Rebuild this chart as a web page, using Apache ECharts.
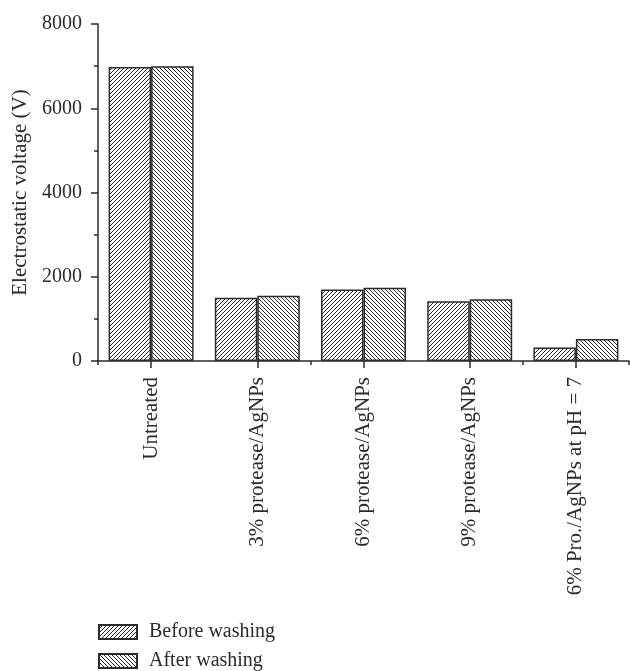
<!DOCTYPE html>
<html>
<head>
<meta charset="utf-8">
<style>
  html, body { margin: 0; padding: 0; background: #fff; }
  #chart { width: 630px; height: 671px; }
</style>
<script src="https://cdn.jsdelivr.net/npm/echarts@6/dist/echarts.min.js"></script>
</head>
<body>
<div id="chart"></div>
<script>
// Electrostatic voltage of fabrics before and after washing
const categories = [
  'Untreated',
  '3% protease/AgNPs',
  '6% protease/AgNPs',
  '9% protease/AgNPs',
  '6% Pro./AgNPs at pH = 7'
];
const seriesNames = ['Before washing', 'After washing'];
const beforeWashing = [6980, 1500, 1700, 1420, 320];
const afterWashing = [7000, 1550, 1740, 1465, 520];
const yTicks = [0, 2000, 4000, 6000, 8000];

const FONT = "'Liberation Serif', 'Times New Roman', serif";
const INK = '#2b2b2b';

// Diagonal hatch tile; dir = 1 for "/" lines, -1 for "\" lines
function hatch(dir) {
  const s = 4;
  const c = document.createElement('canvas');
  c.width = s; c.height = s;
  const g = c.getContext('2d');
  g.fillStyle = '#fff';
  g.fillRect(0, 0, s, s);
  g.strokeStyle = '#2a2a2a';
  g.lineWidth = 1;
  g.beginPath();
  if (dir > 0) {
    g.moveTo(-1, s + 1); g.lineTo(s + 1, -1);
    g.moveTo(-1, 1); g.lineTo(1, -1);
    g.moveTo(s - 1, s + 1); g.lineTo(s + 1, s - 1);
  } else {
    g.moveTo(-1, -1); g.lineTo(s + 1, s + 1);
    g.moveTo(s - 1, -1); g.lineTo(s + 1, 1);
    g.moveTo(-1, s - 1); g.lineTo(1, s + 1);
  }
  g.stroke();
  return { image: c, repeat: 'repeat' };
}

const chart = echarts.init(document.getElementById('chart'));

const barStyle = (dir) => ({
  color: hatch(dir),
  borderColor: INK,
  borderWidth: 1.5
});

// One legend row per series, stacked under the category labels
const legendRow = (name, top) => ({
  orient: 'horizontal',
  left: 98,
  top: top,
  padding: 0,
  itemWidth: 38,
  itemHeight: 14,
  icon: 'rect',
  data: [name],
  textStyle: { fontFamily: FONT, fontSize: 20, lineHeight: 20, color: INK, padding: [0, 0, 0, 7] }
});

chart.setOption({
  animation: false,
  backgroundColor: '#fff',
  textStyle: { fontFamily: FONT, color: INK },
  grid: { left: 98, right: 1, top: 24, bottom: 310, containLabel: false },
  legend: [
    legendRow(seriesNames[0], 622),
    legendRow(seriesNames[1], 651)
  ],
  xAxis: [
    {
      type: 'category',
      data: categories,
      position: 'bottom',
      boundaryGap: true,
      axisLine: { show: true, lineStyle: { color: INK, width: 1.5 } },
      axisTick: { show: true, alignWithLabel: true, length: 7, lineStyle: { color: INK, width: 1.5 } },
      axisLabel: {
        rotate: 90,
        margin: 16,
        fontFamily: FONT,
        fontSize: 21,
        color: INK,
        interval: 0
      },
      splitLine: { show: false }
    },
    {
      type: 'category',
      data: categories,
      position: 'bottom',
      boundaryGap: true,
      axisLine: { show: false },
      axisTick: { show: true, alignWithLabel: false, length: 4, lineStyle: { color: INK, width: 1.5 } },
      axisLabel: { show: false },
      splitLine: { show: false }
    }
  ],
  yAxis: {
    type: 'value',
    min: yTicks[0],
    max: yTicks[yTicks.length - 1],
    interval: yTicks[1] - yTicks[0],
    name: 'Electrostatic voltage (V)',
    nameLocation: 'middle',
    nameGap: 63,
    nameTextStyle: { fontFamily: FONT, fontSize: 21, color: INK },
    axisLine: { show: true, lineStyle: { color: INK, width: 1.5 } },
    axisTick: { show: true, length: 7, lineStyle: { color: INK, width: 1.5 } },
    minorTick: { show: true, splitNumber: 2, length: 4, lineStyle: { color: INK, width: 1.5 } },
    axisLabel: {
      margin: 16,
      fontFamily: FONT,
      fontSize: 20,
      color: INK,
      formatter: (v) => String(v)
    },
    splitLine: { show: false },
    minorSplitLine: { show: false }
  },
  series: [
    {
      name: seriesNames[0],
      type: 'bar',
      xAxisIndex: 0,
      data: beforeWashing,
      barGap: '0%',
      barCategoryGap: '20%',
      itemStyle: barStyle(1)
    },
    {
      name: seriesNames[1],
      type: 'bar',
      xAxisIndex: 0,
      data: afterWashing,
      barGap: '0%',
      barCategoryGap: '20%',
      itemStyle: barStyle(-1)
    }
  ]
});
</script>
</body>
</html>
